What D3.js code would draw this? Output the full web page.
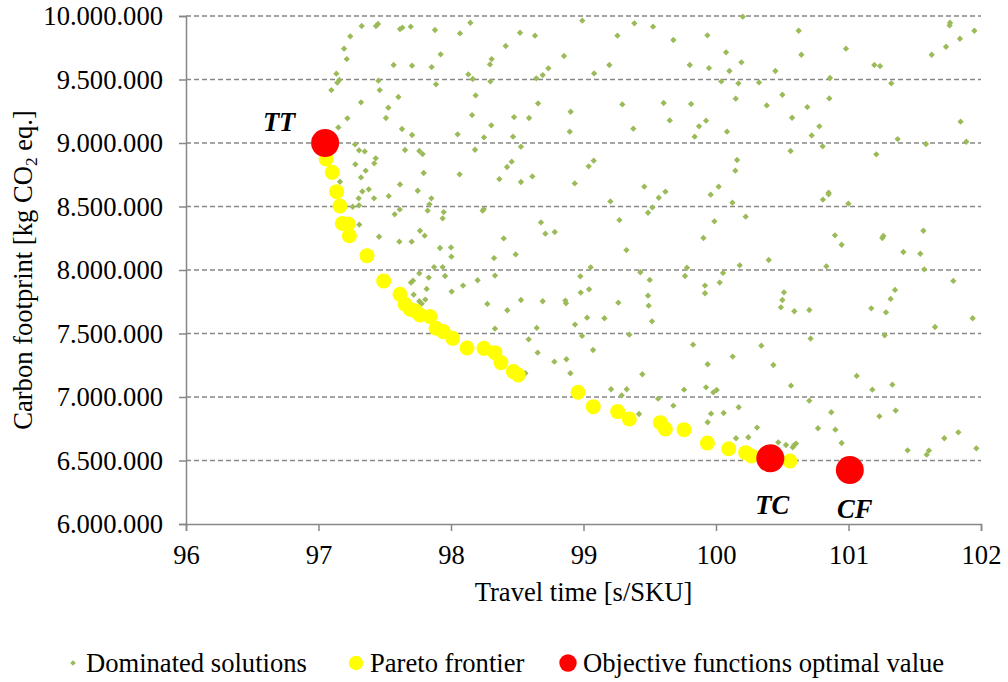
<!DOCTYPE html>
<html>
<head>
<meta charset="utf-8">
<script src="https://cdn.jsdelivr.net/npm/d3@7"></script>
<style>
  html, body { margin: 0; padding: 0; background: #fff; }
  svg { display: block; }
  text { font-family: "Liberation Serif", "Times New Roman", serif; fill: #000; }
</style>
</head>
<body>
<svg id="chart" width="1008" height="682"></svg>
<script>
// Travel time [s/SKU] vs carbon footprint [kg CO2 eq.]
const xTicks = [96, 97, 98, 99, 100, 101, 102];
const yTicks = [6000000, 6500000, 7000000, 7500000, 8000000, 8500000, 9000000, 9500000, 10000000];

const dominated = [
  [97.326,9921000],[97.434,9921000],[97.449,9937000],[97.615,9897000],[97.633,9908000],[97.696,9916000],
  [97.879,9890000],[98.068,9863000],[98.146,9947000],[98.521,9868000],[98.634,9845000],[97.240,9840000],
  [97.193,9743000],[97.213,9661000],[97.922,9698000],[98.413,9764000],[98.307,9661000],[98.294,9619000],
  [97.567,9614000],[97.706,9609000],[97.854,9598000],[98.131,9540000],[98.164,9504000],[98.735,9588000],
  [98.644,9509000],[98.692,9535000],[97.135,9546000],[97.157,9496000],[97.142,9475000],[97.452,9491000],
  [98.297,9485000],[97.887,9462000],[97.097,9417000],[97.462,9417000],[98.186,9375000],[97.603,9362000],
  [97.321,9320000],[98.657,9312000],[97.527,9278000],[97.218,9194000],[97.509,9197000],[98.159,9220000],
  [98.476,9204000],[98.589,9197000],[97.150,9123000],[97.630,9110000],[97.706,9063000],[98.050,9068000],
  [98.304,9139000],[98.249,9044000],[98.468,9050000],[97.276,8989000],[97.306,8942000],[97.349,8934000],
  [97.653,8945000],[97.761,8937000],[97.786,8913000],[98.181,8947000],[98.528,8971000],[97.432,8879000],
  [97.421,8840000],[97.278,8832000],[97.356,8782000],[97.321,8729000],[97.794,8764000],[98.065,8753000],
  [98.458,8853000],[98.423,8811000],[98.365,8716000],[98.528,8693000],[98.614,8737000],[97.162,8695000],
  [97.615,8674000],[97.331,8619000],[97.379,8635000],[97.749,8624000],[97.530,8582000],[97.419,8564000],
  [97.303,8564000],[97.852,8564000],[97.837,8517000],[97.258,8498000],[97.306,8509000],[97.613,8477000],
  [97.575,8438000],[97.824,8467000],[97.945,8456000],[97.937,8407000],[98.247,8480000],[98.239,8467000],
  [98.679,8375000],[98.712,8286000],[97.308,8357000],[97.766,8309000],[97.801,8270000],[97.457,8262000],
  [97.610,8223000],[97.703,8223000],[98.398,8249000],[97.917,8173000],[98.000,8178000],[98.003,8105000],
  [98.325,8094000],[98.488,8123000],[97.872,8023000],[97.937,8023000],
  [98.991,9963000],[99.384,9942000],[99.525,9916000],[99.256,9845000],[99.678,9811000],[99.935,9848000],
  [100.202,9995000],[98.853,9685000],[100.076,9714000],[100.192,9635000],[99.195,9614000],[99.080,9548000],
  [99.802,9614000],[99.947,9590000],[100.101,9567000],[100.040,9485000],[100.169,9470000],[100.325,9477000],
  [99.293,9304000],[99.605,9315000],[99.812,9307000],[100.149,9349000],[100.383,9296000],[98.903,9246000],
  [98.896,9089000],[99.376,9113000],[99.651,9178000],[99.872,9131000],[99.925,9176000],[99.839,9050000],
  [100.083,9089000],[99.077,8861000],[99.039,8816000],[100.159,8866000],[100.146,8782000],[98.934,8682000],
  [99.459,8656000],[99.618,8617000],[99.568,8569000],[100.020,8656000],[99.960,8593000],[99.203,8540000],
  [100.124,8530000],[99.520,8493000],[99.487,8451000],[99.271,8393000],[99.988,8383000],[100.224,8420000],
  [98.783,8299000],[99.905,8252000],[99.324,8157000],[99.054,8021000],[99.781,8018000],[100.179,8037000],
  [100.398,8079000],
  [100.624,9884000],[100.644,9695000],[100.981,9743000],[100.448,9567000],[100.860,9512000],[101.195,9614000],
  [101.238,9606000],[101.323,9470000],[101.628,9695000],[101.736,9758000],[101.766,9947000],[101.763,9926000],
  [101.841,9821000],[101.950,9884000],[100.501,9380000],[100.689,9283000],[100.855,9351000],[100.574,9199000],
  [100.780,9131000],[100.722,9060000],[100.563,8937000],[100.805,8974000],[101.210,8911000],[101.371,9031000],
  [101.585,8992000],[101.846,9168000],[101.889,9010000],[100.850,8609000],[100.850,8596000],[100.807,8554000],
  [100.999,8522000],[100.898,8273000],[100.948,8199000],[101.263,8268000],[101.255,8252000],[101.565,8309000],
  [101.414,8142000],[101.542,8128000],[100.833,8029000],[101.572,8005000],
  [97.698,7901000],[97.713,7916000],[97.761,7974000],[97.832,7940000],[97.955,7953000],[97.816,7851000],
  [98.005,7830000],[98.091,7877000],[98.201,7919000],[98.332,7956000],[97.718,7806000],[97.761,7754000],
  [97.779,7735000],[97.806,7767000],[98.274,7733000],[98.425,7683000],[98.528,7764000],[98.692,7754000],
  [98.332,7538000],[98.647,7544000],[98.586,7454000],[98.654,7349000],[98.561,7187000],
  [98.976,7950000],[98.979,7822000],[99.042,7848000],[98.863,7759000],[98.868,7738000],[99.429,7982000],
  [99.500,7922000],[99.487,7798000],[99.492,7719000],[99.263,7743000],[99.517,7596000],[99.027,7625000],
  [99.158,7620000],[98.936,7570000],[98.989,7481000],[99.346,7491000],[99.766,7953000],[99.917,7877000],
  [99.917,7817000],[100.053,7977000],[100.028,7901000],[98.780,7278000],[98.871,7297000],[98.901,7187000],
  [99.072,7370000],[99.444,7179000],[99.827,7412000],[99.937,7258000],[100.126,7318000],[100.342,7404000],
  [99.208,7061000],[99.288,7013000],[99.326,7061000],[99.563,6987000],[99.678,6932000],[99.759,7058000],
  [99.925,7076000],[99.980,7037000],[100.005,7055000],[99.419,6866000],[99.963,6869000],[99.937,6801000],
  [100.058,6874000],[100.171,6919000],[100.310,6759000],[100.244,6683000],[100.151,6675000],
  [100.513,7824000],[100.501,7764000],[100.490,7706000],[100.591,7675000],[100.704,7685000],[100.714,7460000],
  [100.433,7252000],[100.566,7089000],[100.704,6971000],[100.770,6754000],[100.870,6880000],[100.901,6743000],
  [100.948,6638000],[100.470,6643000],[100.528,6622000],[100.579,6604000],[100.589,6620000],[100.604,6633000],
  [101.062,7166000],[101.180,7058000],[101.331,7097000],[101.233,6848000],[101.356,6893000],[101.172,7698000],
  [101.283,7667000],[101.318,7772000],[101.351,7843000],[101.273,7486000],[101.653,7551000],[101.791,7914000],
  [101.937,7620000],[101.446,6580000],[101.590,6546000],[101.607,6578000],[101.723,6675000],[101.829,6722000],
  [101.965,6596000]
];

const pareto = [
  [97.057,8874000],[97.104,8769000],[97.137,8617000],[97.162,8504000],[97.180,8367000],[97.225,8362000],
  [97.233,8270000],[97.366,8113000],[97.492,7914000],[97.615,7809000],[97.653,7730000],[97.691,7691000],
  [97.728,7680000],[97.766,7646000],[97.842,7633000],[97.887,7541000],[97.942,7515000],[98.013,7462000],
  [98.121,7386000],[98.249,7383000],[98.332,7349000],[98.377,7271000],[98.471,7200000],[98.508,7173000],
  [98.959,7037000],[99.074,6924000],[99.258,6885000],[99.346,6827000],[99.580,6798000],[99.618,6748000],
  [99.759,6743000],[99.935,6638000],[100.096,6593000],[100.224,6562000],[100.269,6536000],[100.558,6496000]
];

const optimalNames = ["TT", "TC", "CF"];
const optimalTime = [97.05, 100.41, 101.01];
const optimalCO2 = [9000000, 6517000, 6425000];

const legendLabels = ["Dominated solutions", "Pareto frontier", "Objective functions optimal value"];

// ---- layout ----
const svg = d3.select("#chart");
const plot = { left: 186, right: 981, top: 16, bottom: 524 };
const FONT = 26.6;
const gridColor = "#878787";
const axisColor = "#878787";

const x = d3.scaleLinear().domain([96, 102]).range([plot.left, plot.right]);
const y = d3.scaleLinear().domain([6000000, 10000000]).range([plot.bottom, plot.top]);

const locale = d3.formatLocale({ decimal: ",", thousands: ".", grouping: [3], currency: ["", ""] });
const fmtY = locale.format(",.0f");

// horizontal dashed gridlines
svg.append("g")
  .selectAll("line")
  .data(yTicks.filter(v => v > 6000000))
  .join("line")
  .attr("x1", plot.left).attr("x2", plot.right)
  .attr("y1", d => y(d)).attr("y2", d => y(d))
  .attr("stroke", gridColor)
  .attr("stroke-width", 1.3)
  .attr("stroke-dasharray", "5,3");

// y axis
const yAxis = svg.append("g")
  .attr("transform", `translate(${plot.left},0)`)
  .call(d3.axisLeft(y).tickValues(yTicks).tickFormat(fmtY).tickSize(7).tickPadding(16));
yAxis.select(".domain").attr("stroke", axisColor).attr("stroke-width", 1.5);
yAxis.selectAll(".tick line").attr("stroke", axisColor).attr("stroke-width", 1.5);
yAxis.selectAll(".tick text")
  .attr("font-family", "Liberation Serif, serif")
  .attr("font-size", FONT)
  .attr("fill", "#000");

// x axis
const xAxis = svg.append("g")
  .attr("transform", `translate(0,${plot.bottom})`)
  .call(d3.axisBottom(x).tickValues(xTicks).tickFormat(d3.format("d")).tickSize(7).tickPadding(14));
xAxis.select(".domain").attr("stroke", axisColor).attr("stroke-width", 1.5);
xAxis.selectAll(".tick line").attr("stroke", axisColor).attr("stroke-width", 1.5);
xAxis.selectAll(".tick text")
  .attr("font-family", "Liberation Serif, serif")
  .attr("font-size", FONT)
  .attr("fill", "#000");

// axis titles
svg.append("text")
  .attr("x", (plot.left + plot.right) / 2)
  .attr("y", 601)
  .attr("text-anchor", "middle")
  .attr("font-size", FONT)
  .text("Travel time [s/SKU]");

const yTitle = svg.append("text")
  .attr("transform", `translate(32,${(plot.top + plot.bottom) / 2}) rotate(-90)`)
  .attr("text-anchor", "middle")
  .attr("font-size", FONT);
yTitle.append("tspan").text("Carbon footprint [kg CO");
yTitle.append("tspan").attr("font-size", FONT * 0.65).attr("dy", 5).text("2");
yTitle.append("tspan").attr("dy", -5).text(" eq.]");

// markers
const diamond = d3.symbol().type(d3.symbolSquare).size(20);

svg.append("g")
  .selectAll("path")
  .data(dominated)
  .join("path")
  .attr("d", diamond)
  .attr("transform", d => `translate(${x(d[0])},${y(d[1])}) rotate(45)`)
  .attr("fill", "#9BBB59");

svg.append("g")
  .selectAll("circle")
  .data(pareto)
  .join("circle")
  .attr("cx", d => x(d[0]))
  .attr("cy", d => y(d[1]))
  .attr("r", 7.5)
  .attr("fill", "#FFFF00");

const optimal = optimalNames.map((n, i) => ({ name: n, t: optimalTime[i], c: optimalCO2[i] }));

svg.append("g")
  .selectAll("circle")
  .data(optimal)
  .join("circle")
  .attr("cx", d => x(d.t))
  .attr("cy", d => y(d.c))
  .attr("r", 14)
  .attr("fill", "#FF0000");

// labels for the optimal points
const labelOffset = { TT: [-46, -12], TC: [2, 56], CF: [5, 48] };
svg.append("g")
  .selectAll("text")
  .data(optimal)
  .join("text")
  .attr("x", d => x(d.t) + labelOffset[d.name][0])
  .attr("y", d => y(d.c) + labelOffset[d.name][1])
  .attr("text-anchor", "middle")
  .attr("font-size", FONT)
  .attr("font-weight", "bold")
  .attr("font-style", "italic")
  .text(d => d.name);

// legend
const legendY = 663;
const legend = svg.append("g");
const legendItems = [
  { sx: 73, tx: 86 },
  { sx: 356, tx: 370 },
  { sx: 568, tx: 583 }
];
legend.append("path")
  .attr("d", d3.symbol().type(d3.symbolSquare).size(16))
  .attr("transform", `translate(${legendItems[0].sx},${legendY}) rotate(45)`)
  .attr("fill", "#9BBB59");
legend.append("circle")
  .attr("cx", legendItems[1].sx).attr("cy", legendY).attr("r", 7.2)
  .attr("fill", "#FFFF00");
legend.append("circle")
  .attr("cx", legendItems[2].sx).attr("cy", legendY).attr("r", 8.7)
  .attr("fill", "#FF0000");
legend.selectAll("text")
  .data(legendLabels)
  .join("text")
  .attr("x", (d, i) => legendItems[i].tx)
  .attr("y", legendY + 9)
  .attr("font-size", FONT)
  .text(d => d);
</script>
</body>
</html>
